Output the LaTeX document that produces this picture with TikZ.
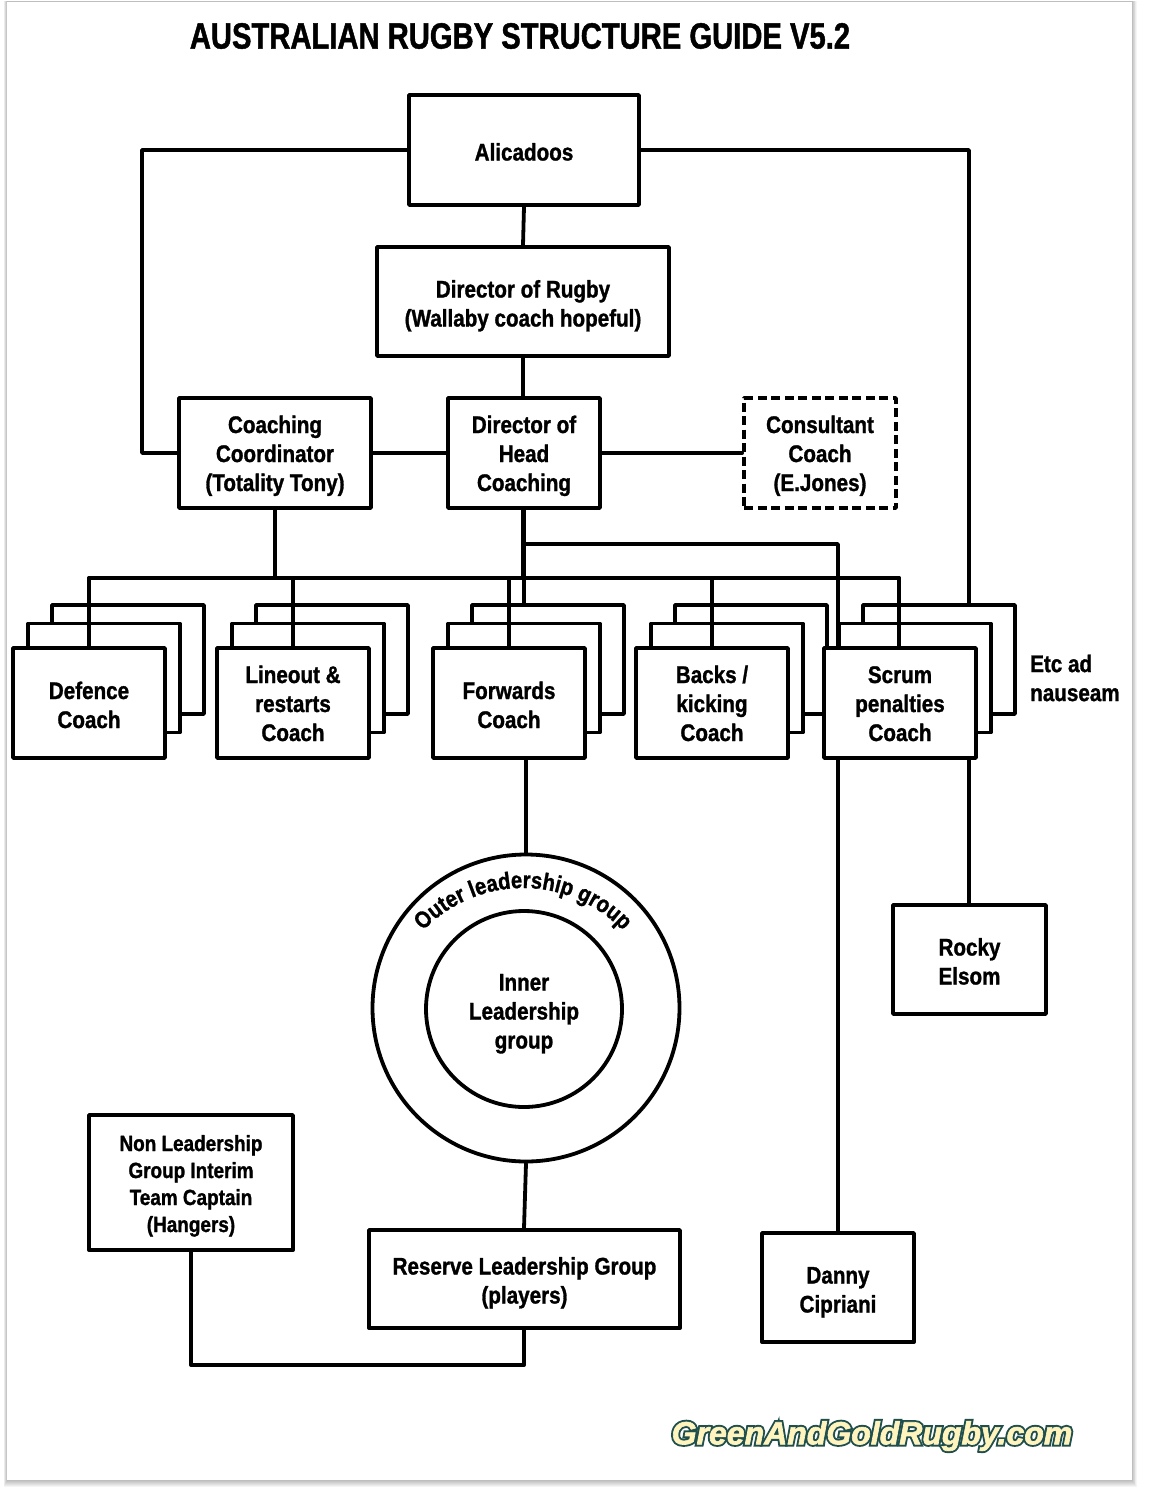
\documentclass[tikz,border=0pt]{standalone}
\usepackage{fontspec}
\usetikzlibrary{calc,decorations.text}
\setmainfont{Liberation Sans}
\newfontfamily\bodyfam{Liberation Sans Bold}[FakeStretch=0.86,FakeBold=1.2]
\newfontfamily\titlefam{Liberation Sans Bold}[FakeStretch=0.80,FakeBold=1.2]
\newfontfamily\logodark{Liberation Sans Bold Italic}[FakeBold=14]
\newfontfamily\logolight{Liberation Sans Bold Italic}[FakeBold=2]
\definecolor{logodk}{HTML}{1F4F4C}
\definecolor{logolt}{HTML}{FFF3BE}
\newcommand{\bodyfont}{\bodyfam\fontsize{24}{29}\selectfont}
\newcommand{\ringfont}{\bodyfam\fontsize{23.5}{29}\selectfont}
\tikzset{
  x=1pt,y=-1pt,
  lw/.style={line width=3.8pt,line join=round},
  conn/.style={lw,line cap=round},
  tall/.style={execute at begin node={\rule[-6pt]{0pt}{\dimexpr#1pt+6pt\relax}}},
  box/.style={draw,fill=white,lw,align=center,inner sep=0pt,font=\bodyfont,text=black,minimum width=#1},
  h110/.style={minimum height=110pt},
  h109/.style={minimum height=109pt},
  layer/.style={draw,fill=white,lw,minimum width=152pt,minimum height=109pt,inner sep=0pt},
  ring/.style={draw,circle,lw,inner sep=0pt,align=center,font=\bodyfont},
}
\begin{document}
\begin{tikzpicture}
\useasboundingbox (0,0) rectangle (1152,1491);
% paper and its shadow
\fill[white] (0,0) rectangle (1152,1491);
\foreach \g in {7,6,5,4,3,2,1}{
  \fill[black,opacity=0.04] (7-\g/2,1) rectangle (1132+\g/1.5,1480+\g);
}
\fill[white] (7,2) rectangle (1132,1480);
\node[font=\titlefam\fontsize{36.5}{44}\selectfont,inner sep=0pt] (title) at (520,36) {AUSTRALIAN RUGBY STRUCTURE GUIDE V5.2};

% top boxes
\node[box=230pt,h110,tall=27] (ali) at (524,150) {Alicadoos};
\node[box=292pt,h109,tall=56] (dor) at (523,301.5) {Director of Rugby\\(Wallaby coach hopeful)};
\node[box=192pt,h110,tall=82] (cc) at (275,453) {Coaching\\Coordinator\\(Totality Tony)};
\node[box=152pt,h110,tall=82] (head) at (524,453) {Director of\\Head\\Coaching};
\node[box=152pt,h110,tall=82,dash pattern=on 9pt off 4.5pt] (cons) at (820,453) {Consultant\\Coach\\(E.Jones)};

% stacked coach boxes
\foreach \n/\x in {d/89,l/293,f/509,b/712,s/900}{
  \node[layer] (\n3) at (\x+39,659.5) {};
  \node[layer] (\n2) at (\x+15,678) {};
}
\node[box=152pt,h110,tall=56] (def) at (89,703) {Defence\\Coach};
\node[box=152pt,h110,tall=82] (lin) at (293,703) {Lineout \&\\restarts\\Coach};
\node[box=152pt,h110,tall=56] (fwd) at (509,703) {Forwards\\Coach};
\node[box=152pt,h110,tall=82] (bac) at (712,703) {Backs /\\kicking\\Coach};
\node[box=152pt,h110,tall=82] (scr) at (900,703) {Scrum\\penalties\\Coach};
\node[font=\bodyfont,align=left,inner sep=0pt,anchor=west] (etc) at (1030,678) {Etc ad\\nauseam};

% leadership rings
\node[ring,minimum size=307pt] (outer) at (526,1008) {};
\node[ring,tall=85,minimum size=196pt] (inner) at (524,1009) {Inner\\Leadership\\group};
\coordinate (arcc) at (523,1026);
\path[decorate,decoration={text along path,text align=center,
   text={|\ringfont|Outer leadership group}}]
   (arcc) ++(140:138pt) arc[start angle=140,end angle=40,radius=138pt];

% lower boxes
\node[box=204pt,minimum height=135pt,tall=105,font=\bodyfam\fontsize{22}{27}\selectfont] (non) at (191,1182.5) {Non Leadership\\Group Interim\\Team Captain\\(Hangers)};
\node[box=311pt,minimum height=98pt,tall=55] (res) at (524.5,1279) {Reserve Leadership Group\\(players)};
\node[box=152pt,h109,tall=56] (dan) at (838,1287.5) {Danny\\Cipriani};
\node[box=153pt,h109,tall=56] (roc) at (969.5,959.5) {Rocky\\Elsom};

% connector waypoints
\coordinate (busL) at (89,578);
\coordinate (busR) at (899,578);
\coordinate (hub) at (524,544);
\coordinate (leftrail) at (142,150);
\coordinate (rightrail) at (969,150);
\coordinate (lowhub) at (524,1365);

% connectors
\draw[conn] (ali.south) -- (dor.north);
\draw[conn] (dor.south) -- (dor.south |- head.north);
\draw[conn] (cc.east) -- (head.west);
\draw[conn] (head.east) -- (cons.west);
\draw[conn] (ali.west) -- (leftrail) |- (cc.west);
\draw[conn] (ali.east) -- (rightrail) -- (rightrail |- s3.north);
\draw[conn] (rightrail |- roc.north) -- (rightrail |- scr.south);
\draw[conn] (cc.south) -- (cc.south |- busL);
\draw[conn] (dor.south |- head.south) -- (dor.south |- busL);
\draw[conn] (head.south) -- (head.south |- f3.north);
\draw[conn] (busL) -- (busR);
\draw[conn] (busL) -- (def.north);
\draw[conn] (lin.north |- busL) -- (lin.north);
\draw[conn] (fwd.north |- busL) -- (fwd.north);
\draw[conn] (bac.north |- busL) -- (bac.north);
\draw[conn] (busR) -- (busR |- scr.north);
\draw[conn] (hub) -| (dan.north |- scr.north);
\draw[conn] (dan.north |- scr.south) -- (dan.north);
\draw[conn] (outer.north |- fwd.south) -- (outer.north);
\draw[conn] (outer.south) -- (lowhub |- res.north);
\draw[conn] (lowhub |- res.south) -- (lowhub) -| (non.south);

% logo
\node[inner sep=0pt,font=\fontsize{32}{36}\selectfont] (logo) at (872,1436)
  {\rlap{\color{logodk}\logodark GreenAndGoldRugby.com}{\color{logolt}\logolight GreenAndGoldRugby.com}};
\end{tikzpicture}
\end{document}
